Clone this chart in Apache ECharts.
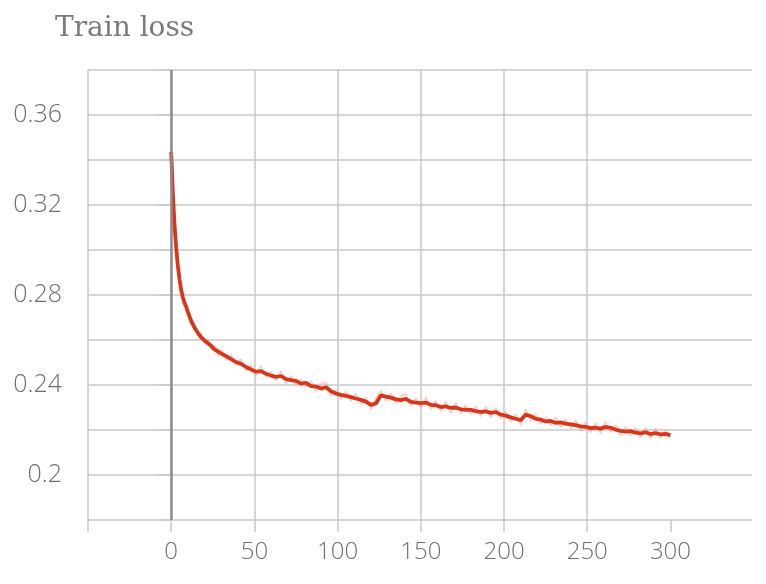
<!DOCTYPE html>
<html>
<head>
<meta charset="utf-8">
<script src="https://cdn.jsdelivr.net/npm/echarts@6/dist/echarts.min.js"></script>
<style>
html,body{margin:0;padding:0;background:#fff;}
#chart{width:766px;height:584px;}
</style>
</head>
<body>
<div id="chart"></div>
<script>
const titleText = 'Train loss';
const steps = [0,1,2,3,4,5,6,7,8,9,10,12,14,16,18,20,22,24,26,28,30,
  33,36,39,42,45,48,51,54,57,60,63,66,69,72,75,78,81,84,87,90,93,96,99,
  102,105,108,111,114,117,120,123,126,129,132,135,138,141,144,147,150,
  153,156,159,162,165,168,171,174,177,180,183,186,189,192,195,198,201,
  204,207,210,213,216,219,222,225,228,231,234,237,240,243,246,249,252,
  255,258,261,264,267,270,273,276,279,282,285,288,291,294,297,300];
const lossSmoothed = [0.3436,0.3250,0.3110,0.3010,0.2930,0.2870,0.2822,0.2790,0.2765,0.2748,0.2725,
  0.2685,0.2655,0.2632,0.2612,0.2598,0.2586,0.2574,0.2558,0.2549,0.2540,
  0.2528,0.2515,0.2502,0.2494,0.2480,0.2469,0.2459,0.2462,0.2450,0.2442,0.2436,0.2440,0.2426,0.2422,0.2418,0.2406,0.2410,0.2395,0.2393,0.2384,0.2390,0.2372,0.2362,
  0.2356,0.2352,0.2346,0.2340,0.2334,0.2326,0.2312,0.2318,0.2354,0.2348,0.2344,0.2336,0.2333,0.2338,0.2325,0.2322,0.2319,
  0.2322,0.2312,0.2310,0.2302,0.2305,0.2298,0.2300,0.2292,0.2290,0.2289,0.2284,0.2280,0.2283,0.2276,0.2280,0.2268,0.2264,
  0.2256,0.2250,0.2244,0.2268,0.2262,0.2250,0.2246,0.2238,0.2240,0.2232,0.2234,0.2228,0.2225,0.2222,0.2216,0.2214,0.2208,
  0.2210,0.2206,0.2214,0.2210,0.2202,0.2196,0.2193,0.2195,0.2188,0.2185,0.2190,0.2182,0.2186,0.2181,0.2183,0.2177];
const lossRaw = [0.3440,0.3240,0.3125,0.2995,0.2945,0.2860,0.2835,0.2775,0.2780,0.2735,0.2740,
  0.2670,0.2672,0.2618,0.2630,0.2585,0.2605,0.2560,0.2575,0.2530,0.2558,
  0.2510,0.2535,0.2488,0.2515,0.2462,0.2490,0.2440,0.2485,0.2432,0.2462,0.2418,0.2462,0.2405,0.2442,0.2398,0.2425,0.2392,0.2418,0.2372,0.2405,0.2412,0.2352,0.2380,
  0.2336,0.2372,0.2328,0.2362,0.2315,0.2345,0.2290,0.2340,0.2376,0.2328,0.2365,0.2318,0.2352,0.2360,0.2305,0.2342,0.2298,
  0.2345,0.2292,0.2330,0.2282,0.2326,0.2276,0.2322,0.2272,0.2312,0.2268,0.2305,0.2260,0.2305,0.2255,0.2300,0.2248,0.2285,
  0.2236,0.2270,0.2222,0.2292,0.2240,0.2272,0.2225,0.2258,0.2220,0.2255,0.2212,0.2250,0.2205,0.2245,0.2195,0.2235,0.2188,
  0.2232,0.2185,0.2238,0.2190,0.2222,0.2175,0.2215,0.2172,0.2210,0.2165,0.2212,0.2160,0.2208,0.2162,0.2200,0.2165];
const xTickValues = [-50,0,50,100,150,200,250,300];
const xTickLabels = ['0','50','100','150','200','250','300'];
const yTickLabels = ['0.36','0.32','0.28','0.24','0.2'];

const smoothedData = steps.map((s, i) => [s, lossSmoothed[i]]);
const rawData = steps.map((s, i) => [s, lossRaw[i]]);

const gridColor = '#c9c9c9';
const labelStyle = { color: '#6e6e6e', fontFamily: 'Open Sans', fontWeight: 300 };

const chart = echarts.init(document.getElementById('chart'));
chart.setOption({
  animation: false,
  backgroundColor: '#ffffff',
  title: {
    text: titleText,
    left: 50, top: 10,
    textStyle: { fontFamily: 'DejaVu Serif', fontSize: 28, fontWeight: 'normal', color: '#7a7a7a' }
  },
  grid: { left: 88, right: 14, top: 70, bottom: 64, containLabel: false },
  xAxis: {
    type: 'value', min: -50, max: 349, interval: 50,
    axisLine: { show: false },
    axisTick: { show: true, length: 12, customValues: xTickValues, lineStyle: { color: gridColor, width: 1.5 } },
    splitLine: { show: true, showMaxLine: false, lineStyle: { color: gridColor, width: 1.5 } },
    axisLabel: Object.assign({
      margin: 20, fontSize: 24,
      formatter: v => (xTickLabels.indexOf(String(Math.round(v))) >= 0 ? String(Math.round(v)) : '')
    }, labelStyle)
  },
  yAxis: {
    type: 'value', min: 0.18, max: 0.38, interval: 0.02,
    axisLine: { show: false },
    axisTick: { show: true, length: 13, lineStyle: { color: gridColor, width: 1.5 } },
    splitLine: { show: true, lineStyle: { color: gridColor, width: 1.5 } },
    axisLabel: Object.assign({
      margin: 26, fontSize: 25,
      formatter: v => {
        const s = String(Math.round(v * 100) / 100);
        return yTickLabels.indexOf(s) >= 0 ? s : '';
      }
    }, labelStyle)
  },
  series: [
    {
      type: 'line', data: rawData, symbol: 'none', silent: true, z: 2,
      lineStyle: { color: '#f29a88', width: 1.5, opacity: 0.5 }
    },
    {
      type: 'line', data: smoothedData, symbol: 'none', silent: true, z: 3,
      lineStyle: { color: '#d8361a', width: 3.8 },
      markLine: {
        silent: true, symbol: 'none', label: { show: false },
        lineStyle: { color: '#8c8c8c', width: 2.5, type: 'solid' },
        data: [{ xAxis: 0 }]
      }
    }
  ]
});
</script>
</body>
</html>
